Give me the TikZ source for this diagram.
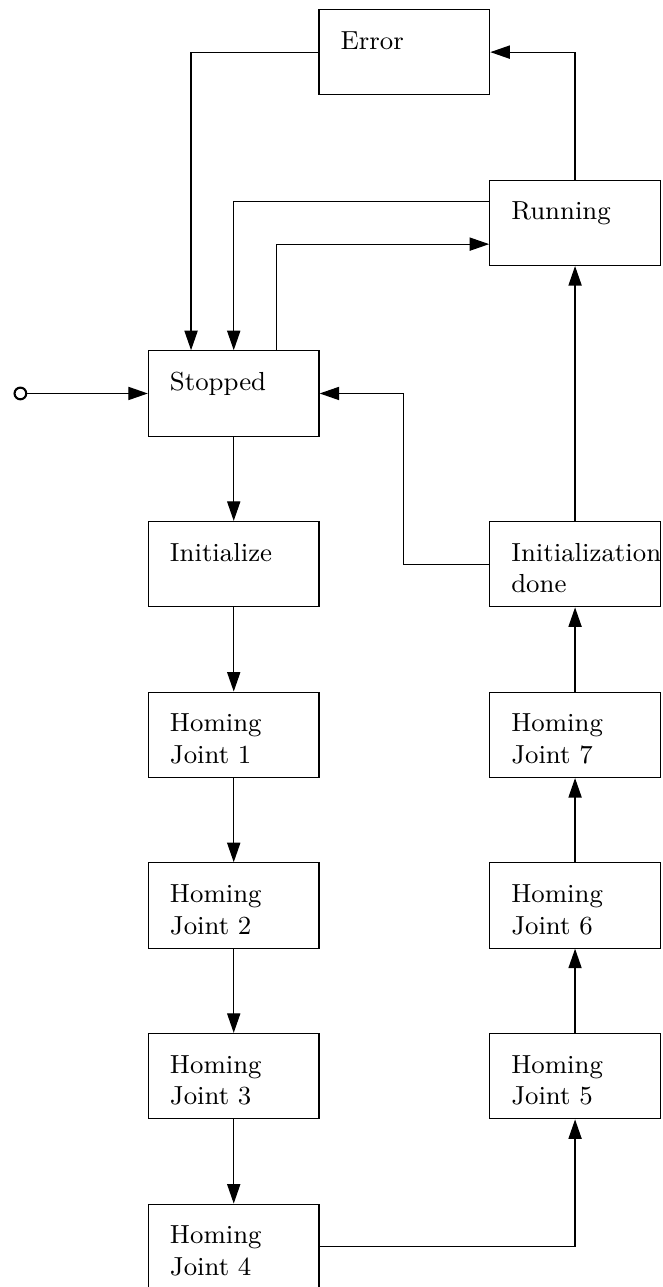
\documentclass[tikz,border=0pt]{standalone}
\usetikzlibrary{arrows.meta,calc}

\newcommand\statefont{\fontsize{8.7}{10.6}\selectfont}

\tikzset{
  state/.style={draw, rectangle, line width=0.4pt,
    minimum width=2cm, minimum height=1cm,
    inner xsep=7.2pt, inner ysep=0pt,
    text width=42.5pt, align=left,
    text height=13.2pt, text depth=15.25pt,
    font=\statefont,
    execute at begin node={\hyphenpenalty=10000\relax}},
  flow/.style={line width=0.4pt, -{Triangle[length=6.5pt,width=4.4pt]}},
  initial/.style={draw, circle, line width=0.7pt, minimum size=3.9pt, inner sep=0pt}
}

\begin{document}
\begin{tikzpicture}
  \useasboundingbox (-2.739,-10.471) rectangle (5.019,4.611);

  % left column
  \node[state] (stopped) at (0,0)   {Stopped};
  \node[state] (init)    at (0,-2)  {Initialize};
  \node[state] (hj1)     at (0,-4)  {Homing\\Joint 1};
  \node[state] (hj2)     at (0,-6)  {Homing\\Joint 2};
  \node[state] (hj3)     at (0,-8)  {Homing\\Joint 3};
  \node[state] (hj4)     at (0,-10) {Homing\\Joint 4};

  % right column
  \node[state] (error)   at (2,4)   {Error};
  \node[state] (running) at (4,2)   {Running};
  \node[state] (done)    at (4,-2)  {Initialization\\done};
  \node[state] (hj7)     at (4,-4)  {Homing\\Joint 7};
  \node[state] (hj6)     at (4,-6)  {Homing\\Joint 6};
  \node[state] (hj5)     at (4,-8)  {Homing\\Joint 5};

  % entry point
  \node[initial] (start) at (-2.5,0) {};
  \draw[flow] (start) -- (stopped.west);

  % homing sequence
  \draw[flow] (stopped) -- (init);
  \draw[flow] (init) -- (hj1);
  \draw[flow] (hj1) -- (hj2);
  \draw[flow] (hj2) -- (hj3);
  \draw[flow] (hj3) -- (hj4);
  \draw[flow] (hj4.east) -| (hj5.south);
  \draw[flow] (hj5) -- (hj6);
  \draw[flow] (hj6) -- (hj7);
  \draw[flow] (hj7) -- (done);
  \draw[flow] (done) -- (running);
  \draw[flow] (done.west) -- ++(-1,0) |- (stopped.east);

  % running / error transitions
  \draw[flow] (running.north) |- (error.east);
  \draw[flow] (error.west) -| ($(stopped.north)+(-0.5,0)$);
  \draw[flow] ($(running.west)+(0,0.25)$) -| (stopped.north);
  \draw[flow] ($(stopped.north)+(0.5,0)$) |- ($(running.west)+(0,-0.25)$);
\end{tikzpicture}
\end{document}
